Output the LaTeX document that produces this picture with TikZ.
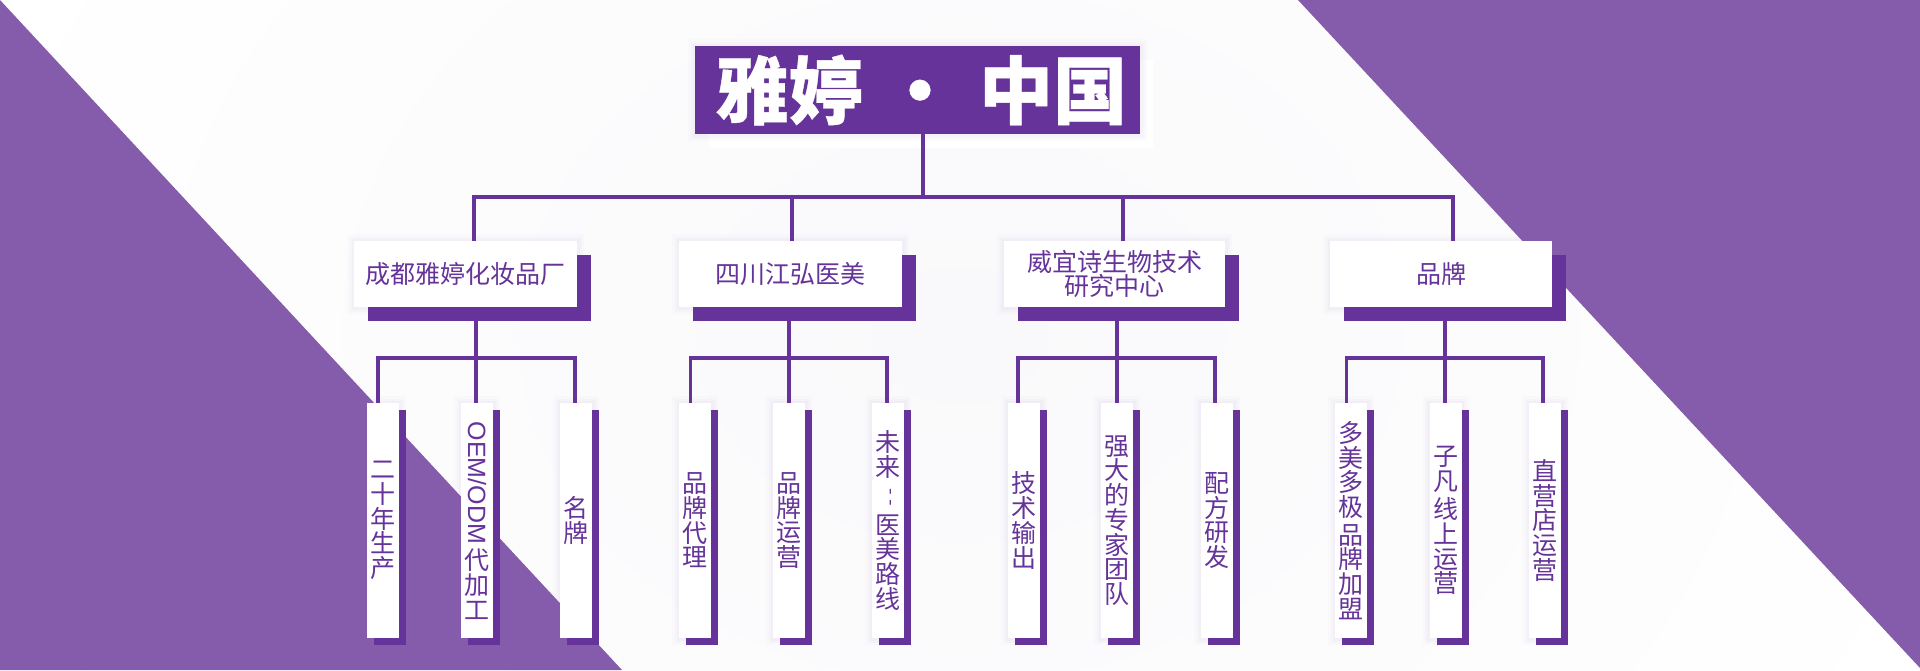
\documentclass[tikz,border=0pt]{standalone}
\usepackage{fontspec}
\usetikzlibrary{shadows}
\setmainfont{Noto Sans CJK SC}
\newfontfamily\titlefont[FakeBold=0.5]{Noto Sans CJK SC Black}
\newfontfamily\latfont{Liberation Sans}
\definecolor{dp}{HTML}{653399}
\definecolor{lp}{HTML}{855CAB}
\definecolor{papermid}{HTML}{F9F9FB}
\definecolor{glow}{HTML}{8A5FC0}
\pgfdeclarelayer{bgl}
\pgfdeclarelayer{conn}
\pgfsetlayers{bgl,conn,main}
\tikzset{
  softglow/.style={
    preaction={draw=glow,draw opacity=.02,line width=14pt},
    preaction={draw=glow,draw opacity=.025,line width=9pt},
    preaction={draw=glow,draw opacity=.03,line width=5pt}},
  bluebox/.style={fill=white,inner sep=0pt,minimum width=#1,minimum height=66pt,
    text=dp,align=center,font=\fontsize{25}{24.7}\selectfont,softglow,
    general shadow={fill=dp,shadow xshift=14pt,shadow yshift=-14pt}},
  leafbox/.style={fill=white,inner sep=0pt,minimum width=#1,minimum height=235pt,
    text=dp,align=center,font=\fontsize{25}{24.7}\selectfont,softglow,
    general shadow={fill=dp,shadow xshift=7pt,shadow yshift=-7pt}},
  titlebox/.style={fill=dp,text=white,inner sep=0pt,minimum width=445pt,minimum height=88pt,softglow},
  conn/.style={draw=dp,line width=3.3pt,line join=miter},
  tri/.style={fill=lp,draw=none}
}
\begin{document}
\begin{tikzpicture}[x=1pt,y=-1pt]
\useasboundingbox (0,0) rectangle (1920,670);
\begin{pgfonlayer}{bgl}
\shade[inner color=papermid,outer color=white,shading=radial] (-100,-500) rectangle (2020,1170);
\fill[tri] (0,0) -- (622,670) -- (0,670) -- cycle;
\fill[tri] (1298,0) -- (1920,0) -- (1920,668) -- cycle;
\fill[white] (709,60) rectangle (1153,148);
\end{pgfonlayer}

\node[titlebox] (top) at (917.5,90) {\titlefont\fontsize{74}{74}\selectfont \hspace{7pt}雅婷\hspace{20pt}·\hspace{22pt}中国};

\node[bluebox=223pt] (b1) at (465.5,274) {成都雅婷化妆品厂};
\node[bluebox=223pt] (b2) at (790.5,274) {四川江弘医美};
\node[bluebox=221pt] (b3) at (1114.5,274) {威宜诗生物技术\\研究中心};
\node[bluebox=222pt] (b4) at (1441,274) {品牌};

\node[leafbox=32pt] (l1) at (383,520.5) {二\\十\\年\\生\\产};
\node[leafbox=32pt] (l2) at (477,520.5) {\rotatebox{-90}{\latfont OEM/ODM}\\[4pt]代\\加\\工};
\node[leafbox=32pt] (l3) at (576,520.5) {名\\牌};
\node[leafbox=32pt] (l4) at (695,520.5) {品\\牌\\代\\理};
\node[leafbox=32pt] (l5) at (789,520.5) {品\\牌\\运\\营};
\node[leafbox=32pt] (l6) at (888,520.5) {未\\来\\[3pt]\raisebox{4pt}[17pt][6pt]{\rotatebox[origin=c]{-90}{\fontsize{19}{19}\selectfont -\hspace{4pt}-}}\\[3pt]医\\美\\路\\线};
\node[leafbox=32pt] (l7) at (1024,520.5) {技\\术\\输\\出};
\node[leafbox=32pt] (l8) at (1117,520.5) {强\\大\\的\\专\\家\\团\\队};
\node[leafbox=32pt] (l9) at (1217,520.5) {配\\方\\研\\发};
\node[leafbox=32pt] (l10) at (1351,520.5) {多\\美\\多\\极\\[3pt]品\\牌\\加\\盟};
\node[leafbox=32pt] (l11) at (1445.5,520.5) {子\\凡\\[4pt]线\\上\\运\\营};
\node[leafbox=32pt] (l12) at (1545,520.5) {直\\营\\店\\运\\营};

\coordinate (rail) at (923,197);
\coordinate (ra) at (474,197);
\coordinate (rb) at (792,197);
\coordinate (rc) at (1123,197);
\coordinate (rd) at (1453,197);
\coordinate (g1a) at (378,358); \coordinate (g1b) at (476,358); \coordinate (g1c) at (575,358);
\coordinate (g2a) at (690.5,358); \coordinate (g2b) at (789,358); \coordinate (g2c) at (887,358);
\coordinate (g3a) at (1018,358); \coordinate (g3b) at (1117,358); \coordinate (g3c) at (1215,358);
\coordinate (g4a) at (1346.5,358); \coordinate (g4b) at (1445,358); \coordinate (g4c) at (1543,358);

\begin{pgfonlayer}{conn}
\draw[conn] (rail |- top.south) -- (rail);
\draw[conn] (ra |- b1.north) -- (ra) -- (rd) -- (rd |- b4.north);
\draw[conn] (rb) -- (rb |- b2.north);
\draw[conn] (rc) -- (rc |- b3.north);
\draw[conn] (g1a |- l1.north) -- (g1a) -- (g1c) -- (g1c |- l3.north);
\draw[conn] (g1b |- b1.south) -- (g1b |- l2.north);
\draw[conn] (g2a |- l4.north) -- (g2a) -- (g2c) -- (g2c |- l6.north);
\draw[conn] (g2b |- b2.south) -- (g2b |- l5.north);
\draw[conn] (g3a |- l7.north) -- (g3a) -- (g3c) -- (g3c |- l9.north);
\draw[conn] (g3b |- b3.south) -- (g3b |- l8.north);
\draw[conn] (g4a |- l10.north) -- (g4a) -- (g4c) -- (g4c |- l12.north);
\draw[conn] (g4b |- b4.south) -- (g4b |- l11.north);
\end{pgfonlayer}
\end{tikzpicture}
\end{document}
